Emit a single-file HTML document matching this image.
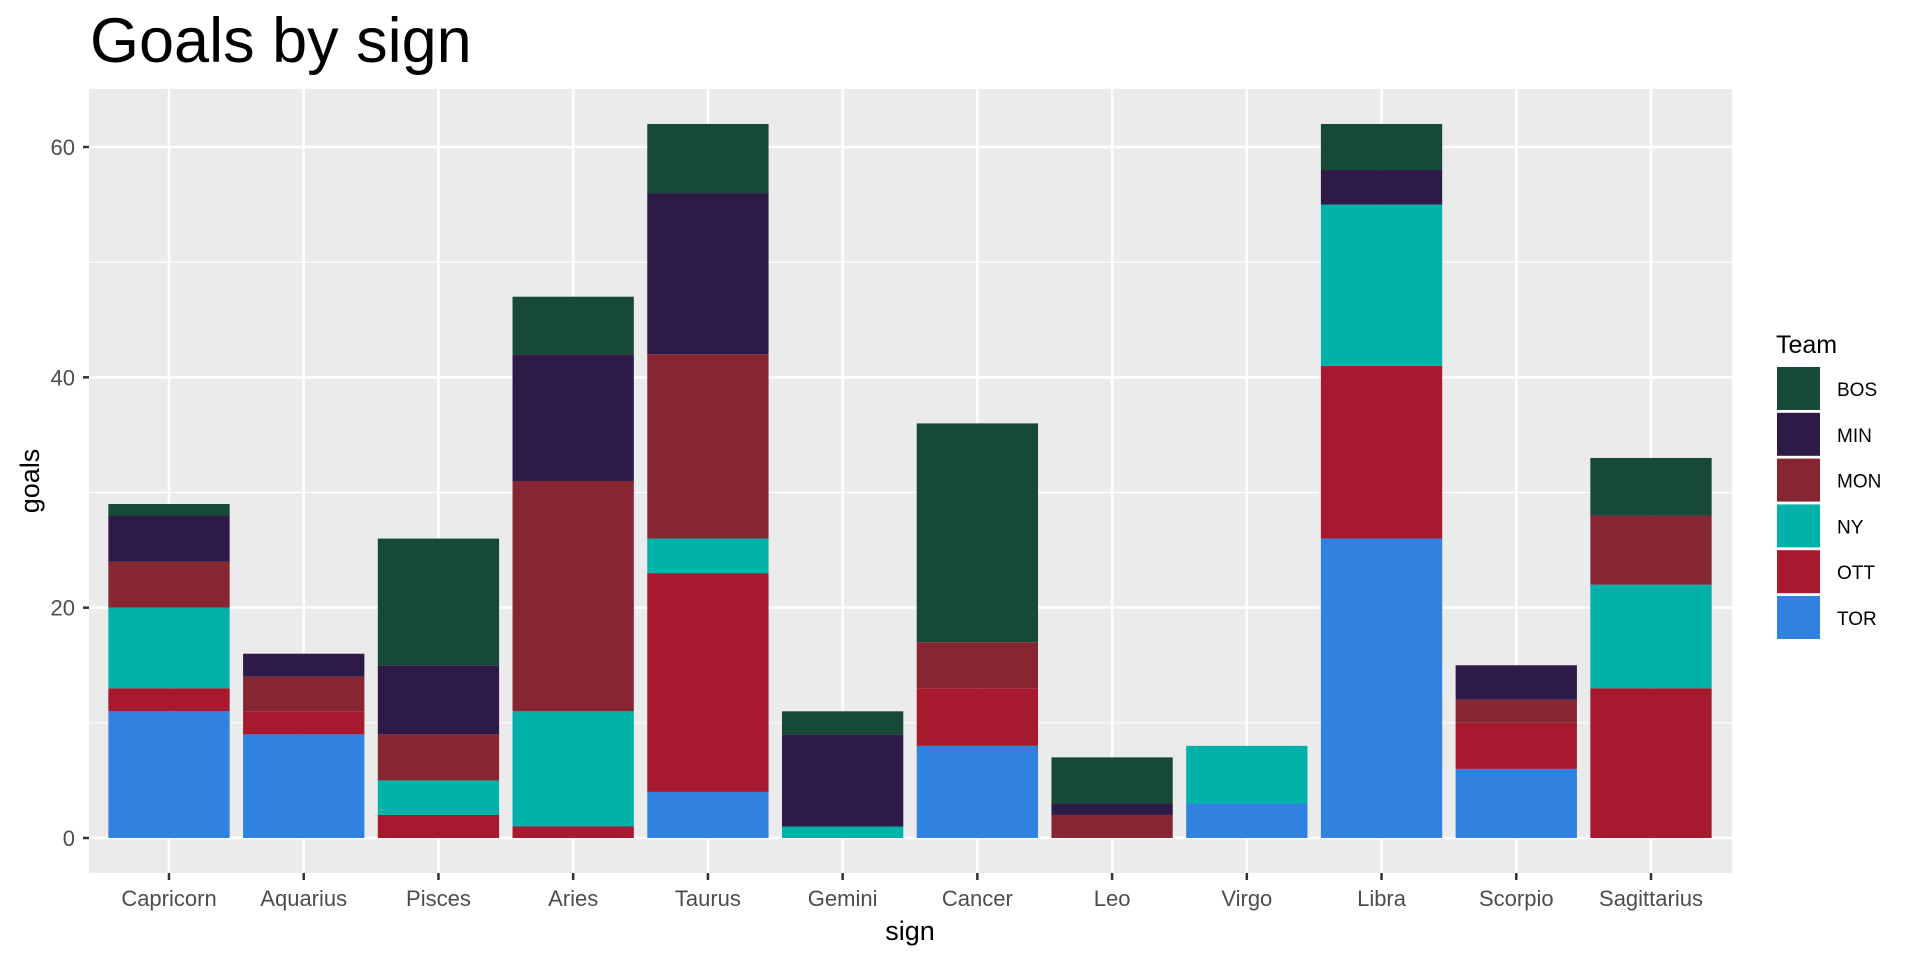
<!DOCTYPE html>
<html><head><meta charset="utf-8"><style>body{margin:0;background:#fff}svg{display:block}</style></head><body>
<svg id="s" width="1920" height="960" xmlns="http://www.w3.org/2000/svg" font-family="Liberation Sans, Arial, sans-serif"></svg>
<script>
const s=document.getElementById('s');let h='';
const L=89,R=1732,T=89,B=873,y0=838,u=691/60;
const Y=v=>y0-v*u;
h+=`<text x="90" y="62" font-size="63">Goals by sign</text>`;
h+=`<rect x="${L}" y="${T}" width="${R-L}" height="${B-T}" fill="#EBEBEB"/>`;
[10,30,50].forEach(v=>h+=`<line x1="${L}" x2="${R}" y1="${Y(v)}" y2="${Y(v)}" stroke="#fff" stroke-width="1.2"/>`);
[0,20,40,60].forEach(v=>{h+=`<line x1="${L}" x2="${R}" y1="${Y(v)}" y2="${Y(v)}" stroke="#fff" stroke-width="2.5"/>`;
h+=`<line x1="${L-6}" x2="${L}" y1="${Y(v)}" y2="${Y(v)}" stroke="#333" stroke-width="2.5"/>`;
h+=`<text x="${L-14}" y="${Y(v)+8}" font-size="22" fill="#4D4D4D" text-anchor="end">${v}</text>`;});
const signs=["Capricorn","Aquarius","Pisces","Aries","Taurus","Gemini","Cancer","Leo","Virgo","Libra","Scorpio","Sagittarius"];
const col={TOR:"#3182E0",OTT:"#A6192E",NY:"#00B2A9",MON:"#862633",MIN:"#2E1A47",BOS:"#174A36"};
const ord=["TOR","OTT","NY","MON","MIN","BOS"];
const d=[[11,2,7,4,4,1],[9,2,0,3,2,0],[0,2,3,4,6,11],[0,1,10,20,11,5],[4,19,3,16,14,6],[0,0,1,0,8,2],[8,5,0,4,0,19],[0,0,0,2,1,4],[3,0,5,0,0,0],[26,15,14,0,3,4],[6,4,0,2,3,0],[0,13,9,6,0,5]];
const sp=(1651-169)/11,bw=121.3;
signs.forEach((n,i)=>{const c=169+sp*i;
h+=`<line x1="${c}" x2="${c}" y1="${T}" y2="${B}" stroke="#fff" stroke-width="2.5"/>`;
h+=`<line x1="${c}" x2="${c}" y1="${B}" y2="${B+7}" stroke="#333" stroke-width="2.5"/>`;
h+=`<text x="${c}" y="906" font-size="22" fill="#4D4D4D" text-anchor="middle">${n}</text>`;});
signs.forEach((n,i)=>{const c=169+sp*i;let cum=0;
d[i].forEach((v,k)=>{if(v>0){h+=`<rect x="${c-bw/2}" y="${Y(cum+v)}" width="${bw}" height="${v*u}" fill="${col[ord[k]]}"/>`;}cum+=v;});});
h+=`<text x="910" y="940" font-size="27" text-anchor="middle">sign</text>`;
h+=`<text transform="translate(39,481) rotate(-90)" font-size="27" text-anchor="middle">goals</text>`;
h+=`<text x="1776" y="353" font-size="25">Team</text>`;
["BOS","MIN","MON","NY","OTT","TOR"].forEach((t,j)=>{const y=367+j*45.8;
h+=`<rect x="1777" y="${y}" width="43" height="43" fill="${col[t]}"/>`;
h+=`<text x="1837" y="${y+29}" font-size="19">${t}</text>`;});
s.innerHTML=h;
</script>
</body></html>
